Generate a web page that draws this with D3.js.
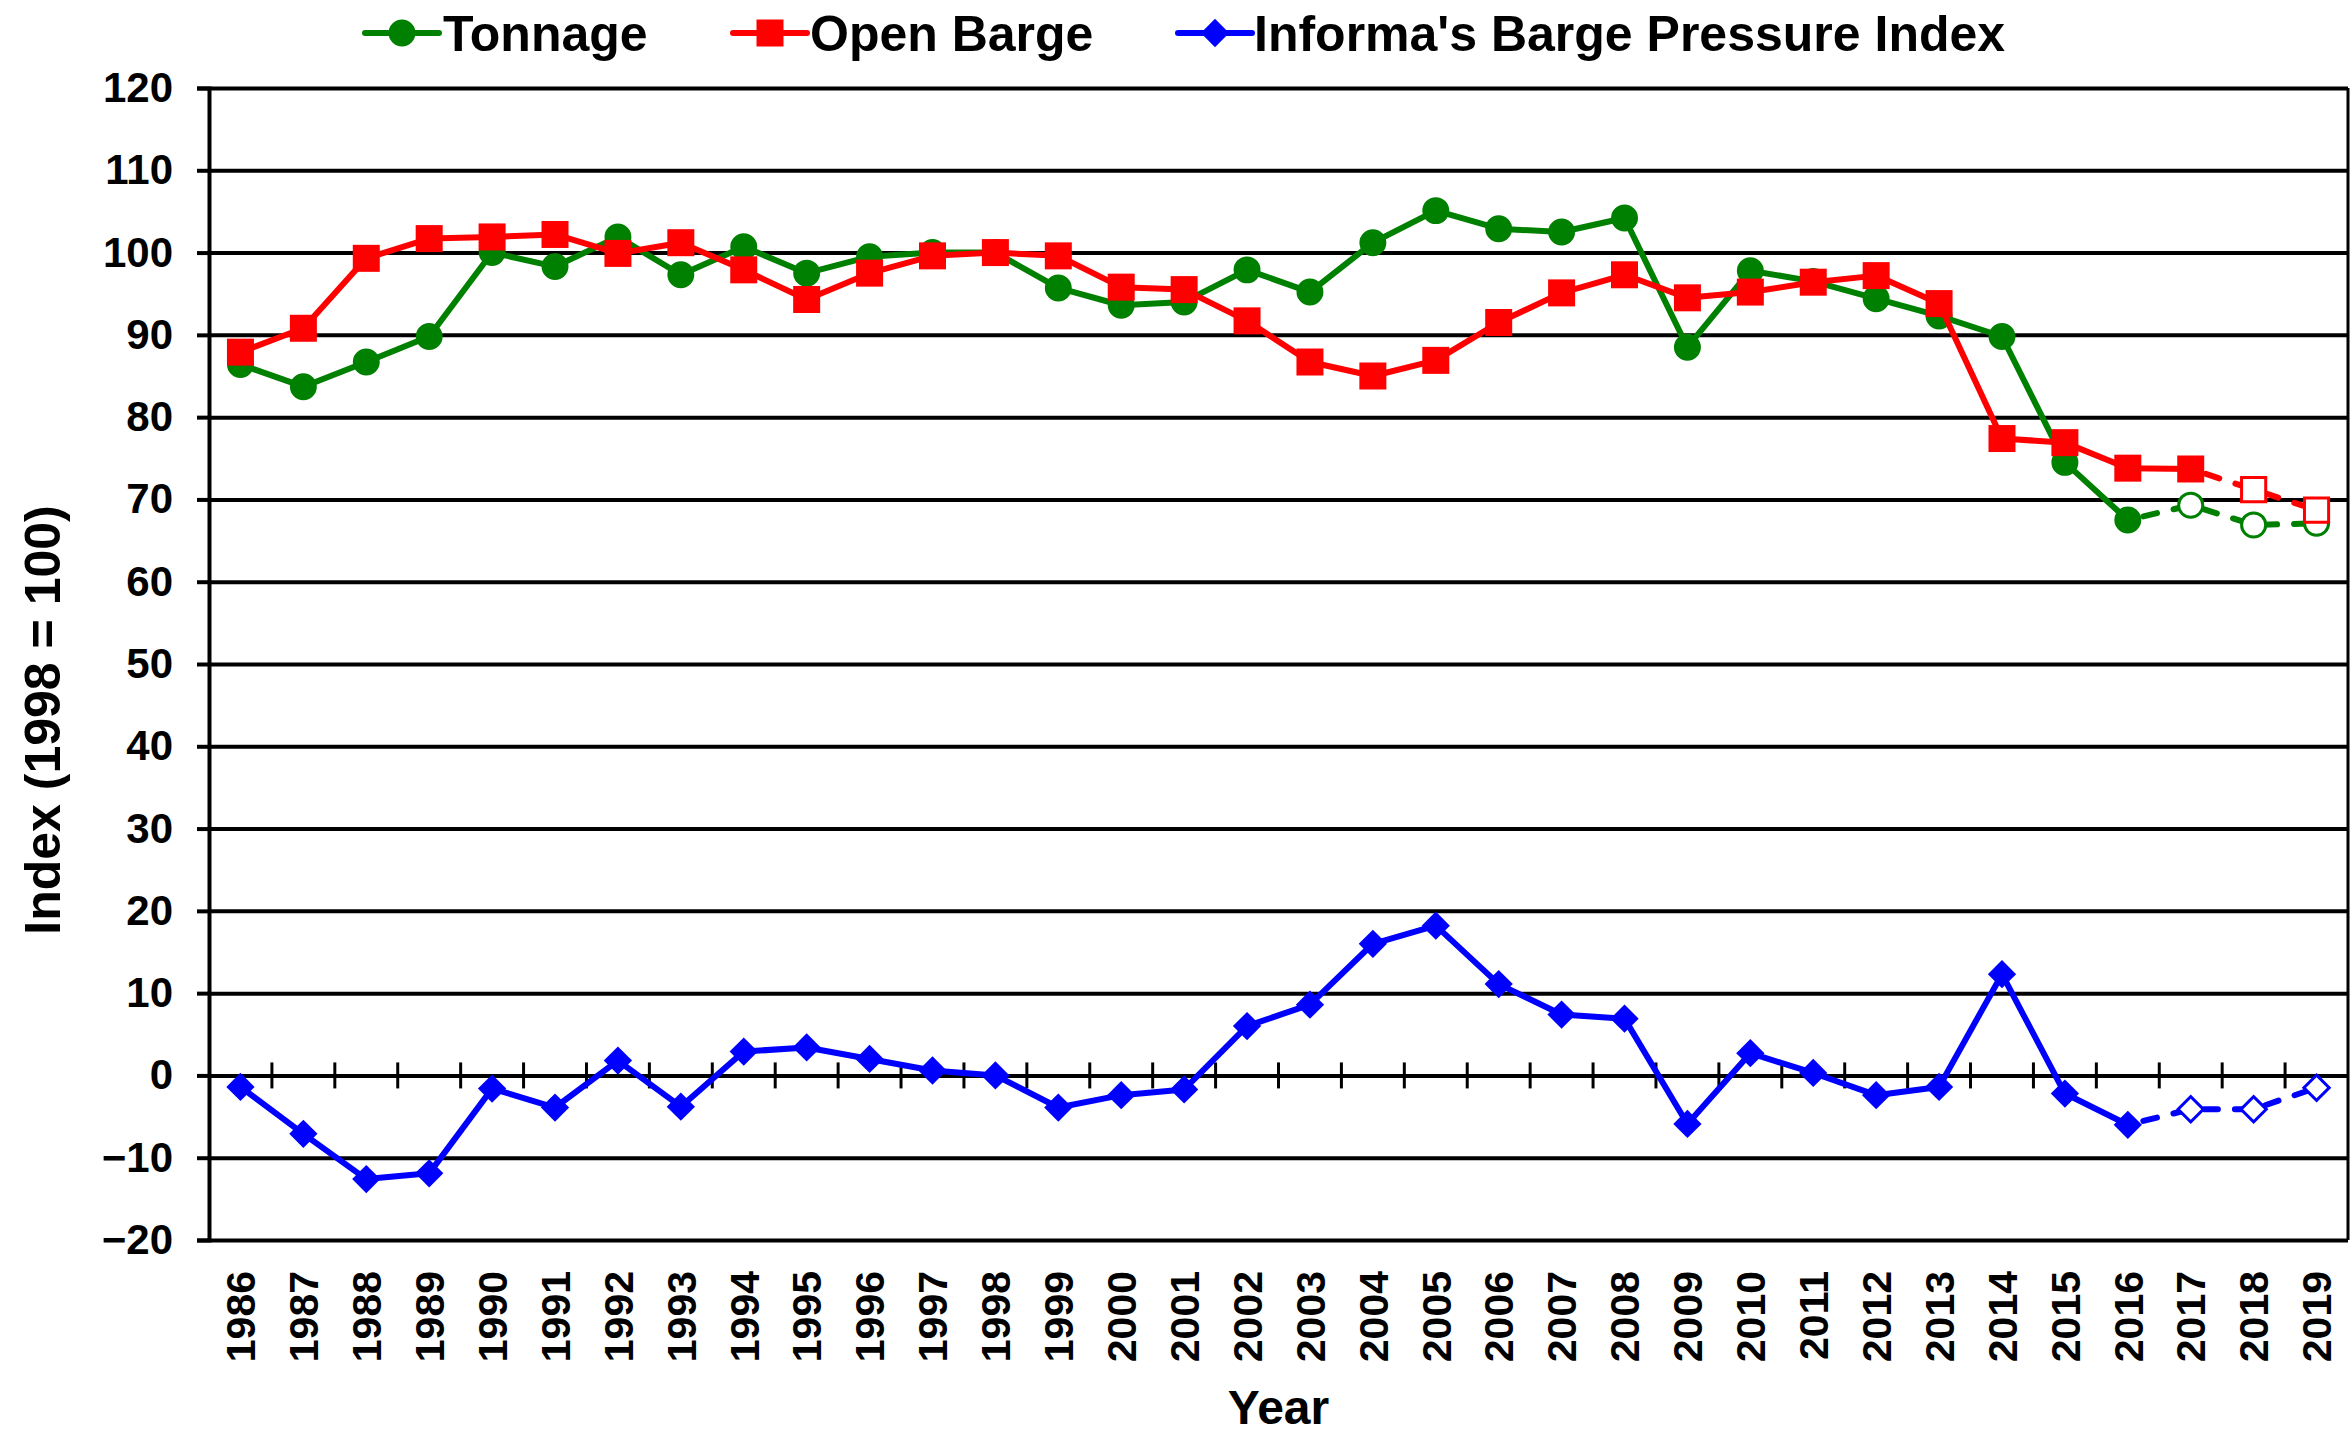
<!DOCTYPE html>
<html>
<head>
<meta charset="utf-8">
<script src="https://cdn.jsdelivr.net/npm/d3@7"></script>
<style>
  body { margin: 0; background: #fff; }
  text { font-family: "Liberation Sans", Arial, sans-serif; font-weight: bold; }
</style>
</head>
<body>
<div id="chart"></div>
<script>
// data
const years = d3.range(1986, 2020).map(String);
const tonnage = [86.4, 83.7, 86.7, 89.8, 100.0, 98.3, 101.9, 97.3, 100.7, 97.5, 99.5, 100.0, 100.0, 95.7, 93.6, 94.0,
  97.9, 95.2, 101.2, 105.1, 102.9, 102.5, 104.2, 88.5, 97.8, 96.5, 94.4, 92.3, 89.8, 74.5, 67.5, 69.3, 66.9, 67.1];
const openBarge = [87.9, 90.8, 99.3, 101.7, 101.9, 102.2, 99.9, 101.2, 97.9, 94.3, 97.5, 99.6, 100.0, 99.6, 95.8, 95.5,
  91.7, 86.7, 85.0, 86.9, 91.5, 95.1, 97.3, 94.5, 95.2, 96.4, 97.2, 93.8, 77.4, 76.9, 73.8, 73.7, 71.2, 68.7];
const pressure = [-1.4, -7.1, -12.6, -11.9, -1.6, -3.9, 1.8, -3.8, 2.9, 3.4, 2.0, 0.6, 0.0, -3.9, -2.4, -1.7,
  6.0, 8.6, 16.0, 18.2, 11.1, 7.4, 6.9, -5.9, 2.7, 0.3, -2.4, -1.4, 12.3, -2.2, -6.0, -4.1, -4.1, -1.5];
const yTicks = d3.range(-20, 121, 10);
// last actual year per series; later points are forecasts (hollow, dashed)
const lastActual = { tonnage: "2016", openBarge: "2017", pressure: "2016" };

const W = 2352, H = 1435;
const margin = { left: 209, right: 2348, top: 88, bottom: 1240 };

const svg = d3.select("#chart").append("svg")
  .attr("width", W).attr("height", H);

svg.append("rect").attr("width", W).attr("height", H).attr("fill", "#fff");

const x = d3.scalePoint().domain(years).range([margin.left, margin.right]).padding(0.5);
const xb = d3.scaleBand().domain(years).range([margin.left, margin.right]);
const y = d3.scaleLinear().domain([-20, 120]).range([margin.bottom, margin.top]);

// gridlines
const grid = svg.append("g")
  .attr("transform", "translate(" + margin.left + ",0)")
  .call(d3.axisLeft(y).tickValues(yTicks).tickSize(-(margin.right - margin.left)).tickFormat(""));
grid.select(".domain").remove();
grid.selectAll("line").attr("stroke", "#000").attr("stroke-width", 4);

// left axis
const ya = svg.append("g")
  .attr("transform", "translate(" + margin.left + ",0)")
  .call(d3.axisLeft(y).tickValues(yTicks).tickSize(12).tickPadding(24));
ya.select(".domain").attr("stroke", "#000").attr("stroke-width", 4);
ya.selectAll("line").attr("stroke", "#000").attr("stroke-width", 4);
ya.selectAll("text").attr("font-size", 42).attr("fill", "#000")
  .attr("font-family", "'Liberation Sans', Arial, sans-serif").attr("font-weight", "bold");

// right border
svg.append("line")
  .attr("x1", margin.right).attr("x2", margin.right).attr("y1", margin.top).attr("y2", margin.bottom)
  .attr("stroke", "#000").attr("stroke-width", 3);

// category ticks crossing the zero line
svg.append("g").selectAll("line")
  .data(years.slice(1))
  .join("line")
  .attr("x1", d => xb(d)).attr("x2", d => xb(d))
  .attr("y1", y(0) - 13).attr("y2", y(0) + 13)
  .attr("stroke", "#000").attr("stroke-width", 3);

// x labels
svg.append("g").selectAll("text")
  .data(years)
  .join("text")
  .attr("transform", d => "translate(" + x(d) + ",1271) rotate(-90)")
  .attr("text-anchor", "end")
  .attr("dy", "0.36em")
  .attr("font-size", 41)
  .text(d => d);

// axis titles
svg.append("text")
  .attr("x", (margin.left + margin.right) / 2).attr("y", 1424)
  .attr("text-anchor", "middle").attr("font-size", 48)
  .text("Year");

svg.append("text")
  .attr("transform", "translate(42,720) rotate(-90)")
  .attr("text-anchor", "middle").attr("dy", "0.36em").attr("font-size", 50)
  .text("Index (1998 = 100)");

// series
const series = [
  { key: "tonnage", name: "Tonnage", values: tonnage, color: "#008000", symbol: d3.symbolCircle, size: 570, rot: 0 },
  { key: "openBarge", name: "Open Barge", values: openBarge, color: "#ff0000", symbol: d3.symbolSquare, size: 729, rot: 0 },
  { key: "pressure", name: "Informa's Barge Pressure Index", values: pressure, color: "#0000ff", symbol: d3.symbolSquare, size: 400, rot: 45 }
];

const line = d3.line().x(d => x(d.year)).y(d => y(d.v));

series.forEach(s => {
  const cut = years.indexOf(lastActual[s.key]);
  const pts = years.map((yr, i) => ({ year: yr, v: s.values[i], forecast: i > cut }));
  const g = svg.append("g");

  g.append("path")
    .attr("d", line(pts.slice(0, cut + 1)))
    .attr("fill", "none").attr("stroke", s.color).attr("stroke-width", 6)
    .attr("stroke-linejoin", "round");

  g.append("path")
    .attr("d", line(pts.slice(cut)))
    .attr("fill", "none").attr("stroke", s.color).attr("stroke-width", 6)
    .attr("stroke-dasharray", "14,17").attr("stroke-dashoffset", -16)
    .attr("stroke-linecap", "round");

  g.selectAll("path.mark")
    .data(pts)
    .join("path")
    .attr("class", "mark")
    .attr("transform", d => "translate(" + x(d.year) + "," + y(d.v) + ") rotate(" + s.rot + ")")
    .attr("d", d => d3.symbol(s.symbol, d.forecast ? s.size * 0.8 : s.size)())
    .attr("fill", d => d.forecast ? "#fff" : s.color)
    .attr("stroke", s.color)
    .attr("stroke-width", d => d.forecast ? 3 : 0);
});

// legend
const legendPos = [
  { lx: 365, tx: 443 },
  { lx: 733, tx: 810 },
  { lx: 1178, tx: 1254 }
];
series.forEach((s, i) => {
  const p = legendPos[i];
  const g = svg.append("g");
  g.append("line")
    .attr("x1", p.lx).attr("x2", p.lx + 74).attr("y1", 33).attr("y2", 33)
    .attr("stroke", s.color).attr("stroke-width", 6).attr("stroke-linecap", "round");
  g.append("path")
    .attr("transform", "translate(" + (p.lx + 37) + ",33) rotate(" + s.rot + ")")
    .attr("d", d3.symbol(s.symbol, s.size)())
    .attr("fill", s.color);
  g.append("text")
    .attr("x", p.tx).attr("y", 51)
    .attr("font-size", 50)
    .text(s.name);
});
</script>
</body>
</html>
